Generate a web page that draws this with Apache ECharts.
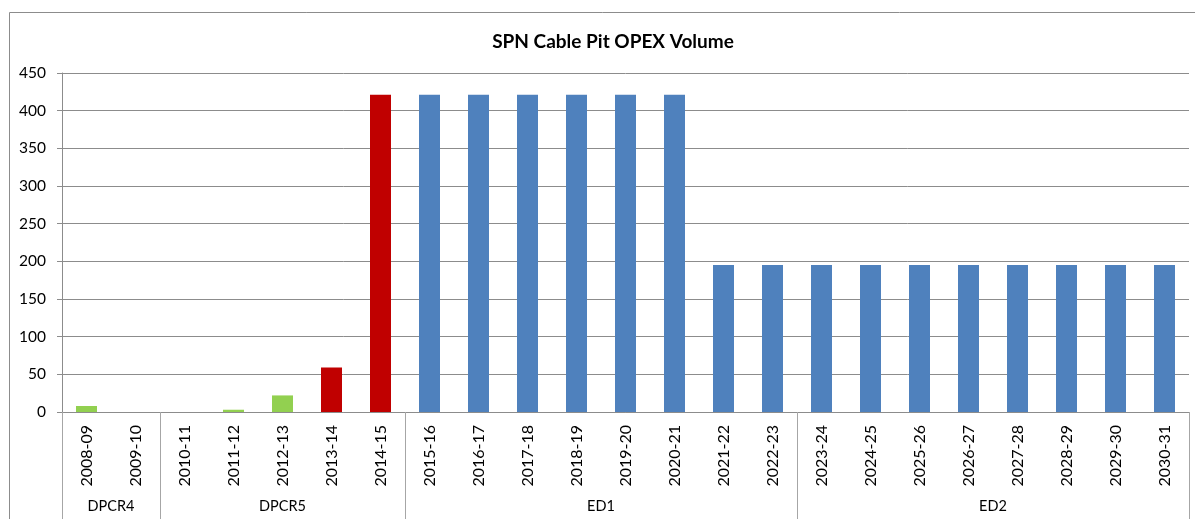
<!DOCTYPE html>
<html>
<head>
<meta charset="utf-8">
<script src="https://cdn.jsdelivr.net/npm/echarts@6/dist/echarts.min.js"></script>
<style>
  html, body { margin: 0; padding: 0; background: #fff; }
  #chart { width: 1195px; height: 519px; }
</style>
</head>
<body>
<div id="chart"></div>
<script>
const FONT = 'Lato, "Open Sans", sans-serif'

const years = [
  '2008-09', '2009-10', '2010-11', '2011-12', '2012-13', '2013-14', '2014-15',
  '2015-16', '2016-17', '2017-18', '2018-19', '2019-20', '2020-21', '2021-22',
  '2022-23', '2023-24', '2024-25', '2025-26', '2026-27', '2027-28', '2028-29',
  '2029-30', '2030-31',
]
// green / red / blue series (null where the series has no bar)
const greenVals = [8, null, null, 3, 22, null, null, null, null, null, null, null, null, null, null, null, null, null, null, null, null, null, null]
const redVals = [null, null, null, null, null, 59, 421, null, null, null, null, null, null, null, null, null, null, null, null, null, null, null, null]
const blueVals = [null, null, null, null, null, null, null, 421, 421, 421, 421, 421, 421, 195, 195, 195, 195, 195, 195, 195, 195, 195, 195]

const groupNames = ['DPCR4', 'DPCR5', 'ED1', 'ED2']
const groupSizes = [2, 5, 8, 8]
const yTicks = { min: 0, max: 450, step: 50 }

// group boundaries and centres in category units
const groupEdges = [0]
const groupCentres = []
groupSizes.forEach((n, i) => {
  groupCentres.push(groupEdges[i] + n / 2)
  groupEdges.push(groupEdges[i] + n)
})

const chart = echarts.init(document.getElementById('chart'))

const barSeries = (name, data, color) => ({
  name,
  type: 'bar',
  stack: 'v',
  barWidth: 21,
  data,
  itemStyle: { color },
})

chart.setOption({
  animation: false,
  backgroundColor: '#fff',
  textStyle: { fontFamily: FONT },
  title: {
    text: 'SPN Cable Pit OPEX Volume',
    left: 608,
    textAlign: 'center',
    top: 27,
    textStyle: { fontSize: 19, fontWeight: 'bold', color: '#000', fontFamily: FONT },
  },
  graphic: [
    {
      type: 'rect',
      shape: { x: 9.5, y: 12.5, width: 1200, height: 520 },
      style: { fill: 'none', stroke: '#8c8c8c', lineWidth: 1 },
      silent: true,
    },
  ],
  grid: { left: 62, right: 6, top: 73, bottom: 107 },
  xAxis: [
    {
      type: 'category',
      data: years,
      boundaryGap: true,
      axisLine: { lineStyle: { color: '#8c8c8c' } },
      axisTick: { length: 71, lineStyle: { color: '#a6a6a6' } },
      axisLabel: { rotate: 90, interval: 0, fontSize: 16, color: '#000', margin: 13, fontFamily: FONT },
    },
    {
      type: 'value',
      min: 0,
      max: years.length,
      position: 'bottom',
      axisLine: { show: false },
      splitLine: { show: false },
      axisTick: { show: true, customValues: groupEdges, length: 107, lineStyle: { color: '#a6a6a6' } },
      axisLabel: {
        show: true,
        customValues: groupCentres,
        margin: 87,
        fontSize: 14.5,
        color: '#000',
        fontFamily: FONT,
        formatter: (v) => groupNames[groupCentres.indexOf(v)] || '',
      },
    },
  ],
  yAxis: {
    type: 'value',
    min: yTicks.min,
    max: yTicks.max,
    interval: yTicks.step,
    axisLine: { show: true, lineStyle: { color: '#8c8c8c' } },
    axisTick: { show: true, length: 5, lineStyle: { color: '#8c8c8c' } },
    splitLine: { lineStyle: { color: '#8c8c8c' } },
    axisLabel: { fontSize: 15.5, color: '#000', margin: 16, fontFamily: FONT },
  },
  series: [
    barSeries('green', greenVals, '#92D050'),
    barSeries('red', redVals, '#C00000'),
    barSeries('blue', blueVals, '#4F81BD'),
  ],
})
</script>
</body>
</html>
